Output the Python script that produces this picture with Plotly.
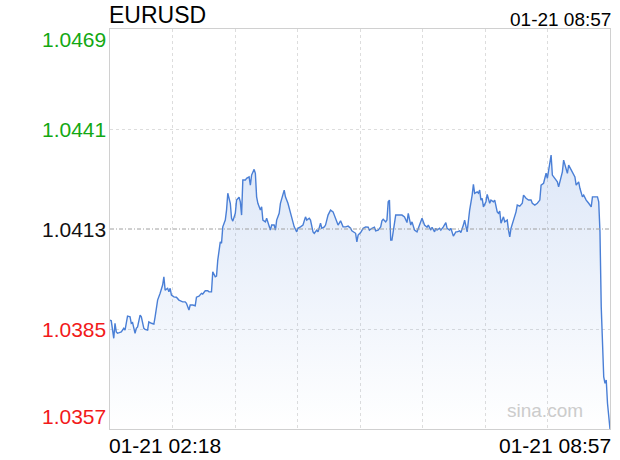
import pandas as pd
import plotly.graph_objects as go

# ---------------- data ----------------
symbol = "EURUSD"
start_time = "2025-01-21 02:18"
end_label = "01-21 08:57"
start_label = "01-21 02:18"

minutes = [0, 1, 3, 4, 5, 6, 9, 11, 12, 14, 16, 17, 18, 20, 21, 22, 24, 25, 27, 28,
           30, 31, 33, 35, 36, 38, 40, 42, 43, 44, 46, 47, 48, 49, 51, 53, 55, 58, 60, 61,
           63, 64, 66, 68, 69, 71, 73, 74, 76, 78, 79, 81, 82, 84, 85, 86, 88, 89, 90, 92,
           93, 94, 96, 97, 98, 100, 101, 103, 104, 105, 106, 108, 109, 111, 112, 113, 115, 116, 117, 118,
           120, 121, 122, 124, 125, 126, 128, 129, 131, 132, 133, 135, 136, 139, 140, 142, 144, 146, 147, 149,
           150, 152, 154, 156, 157, 159, 160, 162, 163, 165, 166, 168, 169, 171, 172, 174, 176, 178, 179, 181,
           182, 184, 186, 188, 190, 192, 193, 196, 197, 198, 200, 202, 204, 206, 207, 209, 211, 212, 214, 216,
           217, 218, 220, 221, 222, 223, 224, 225, 226, 228, 230, 233, 235, 237, 238, 240, 241, 243, 245, 246,
           248, 249, 251, 253, 254, 256, 257, 259, 260, 261, 263, 264, 266, 268, 269, 271, 272, 274, 276, 277,
           279, 280, 282, 283, 285, 286, 287, 289, 290, 291, 293, 294, 295, 296, 297, 298, 300, 301, 303, 304,
           306, 307, 309, 310, 311, 312, 314, 315, 317, 318, 319, 320, 322, 324, 325, 327, 329, 330, 332, 334,
           336, 337, 339, 341, 343, 344, 346, 348, 349, 351, 352, 353, 355, 357, 358, 360, 361, 362, 364, 365,
           366, 368, 369, 371, 372, 374, 375, 377, 378, 380, 382, 384, 385, 387, 389, 390, 391, 392, 394, 395,
           396, 397, 399]

prices = [1.03875, 1.03873, 1.03824, 1.03866, 1.03842, 1.03838, 1.03842, 1.03852, 1.03847, 1.03886,
          1.03884, 1.03866, 1.03868, 1.03838, 1.03852, 1.03856, 1.03889, 1.03884, 1.03852, 1.03849,
          1.03847, 1.03870, 1.03866, 1.03864, 1.03884, 1.03931, 1.03950, 1.03973, 1.03996, 1.03959,
          1.03964, 1.03954, 1.03964, 1.03945, 1.03940, 1.03939, 1.03931, 1.03926, 1.03926, 1.03922,
          1.03903, 1.03917, 1.03917, 1.03915, 1.03939, 1.03942, 1.03950, 1.03948, 1.03957, 1.03957,
          1.03954, 1.03954, 1.04010, 1.03996, 1.03998, 1.04043, 1.04094, 1.04090, 1.04136, 1.04155,
          1.04183, 1.04230, 1.04202, 1.04160, 1.04152, 1.04174, 1.04211, 1.04219, 1.04206, 1.04169,
          1.04267, 1.04267, 1.04272, 1.04276, 1.04253, 1.04281, 1.04297, 1.04286, 1.04220, 1.04202,
          1.04183, 1.04192, 1.04155, 1.04150, 1.04160, 1.04150, 1.04127, 1.04141, 1.04141, 1.04127,
          1.04155, 1.04174, 1.04202, 1.04239, 1.04220, 1.04202, 1.04178, 1.04150, 1.04136, 1.04122,
          1.04132, 1.04136, 1.04141, 1.04164, 1.04155, 1.04160, 1.04155, 1.04122, 1.04118, 1.04127,
          1.04122, 1.04146, 1.04132, 1.04136, 1.04141, 1.04169, 1.04183, 1.04178, 1.04169, 1.04150,
          1.04141, 1.04153, 1.04136, 1.04136, 1.04138, 1.04132, 1.04125, 1.04118, 1.04094, 1.04113,
          1.04120, 1.04132, 1.04136, 1.04135, 1.04127, 1.04132, 1.04135, 1.04125, 1.04127, 1.04136,
          1.04153, 1.04157, 1.04150, 1.04155, 1.04206, 1.04211, 1.04099, 1.04099, 1.04127, 1.04169,
          1.04169, 1.04169, 1.04164, 1.04148, 1.04174, 1.04141, 1.04150, 1.04127, 1.04122, 1.04132,
          1.04150, 1.04160, 1.04141, 1.04135, 1.04141, 1.04127, 1.04135, 1.04122, 1.04132, 1.04127,
          1.04132, 1.04127, 1.04136, 1.04148, 1.04132, 1.04127, 1.04132, 1.04110, 1.04122, 1.04122,
          1.04125, 1.04120, 1.04141, 1.04155, 1.04122, 1.04160, 1.04183, 1.04225, 1.04255, 1.04230,
          1.04234, 1.04230, 1.04239, 1.04211, 1.04216, 1.04192, 1.04206, 1.04227, 1.04202, 1.04211,
          1.04206, 1.04211, 1.04178, 1.04174, 1.04180, 1.04146, 1.04164, 1.04150, 1.04155, 1.04127,
          1.04108, 1.04132, 1.04155, 1.04178, 1.04197, 1.04194, 1.04202, 1.04225, 1.04216, 1.04211,
          1.04211, 1.04202, 1.04197, 1.04202, 1.04211, 1.04253, 1.04258, 1.04286, 1.04272, 1.04318,
          1.04337, 1.04281, 1.04272, 1.04262, 1.04248, 1.04276, 1.04290, 1.04323, 1.04300, 1.04286,
          1.04309, 1.04295, 1.04290, 1.04276, 1.04253, 1.04262, 1.04244, 1.04220, 1.04225, 1.04211,
          1.04202, 1.04192, 1.04220, 1.04220, 1.04220, 1.04206, 1.04122, 1.03912, 1.03716, 1.03698,
          1.03707, 1.03642, 1.03570]

prev_close = 1.0413
ytick_vals = [1.0469, 1.0441, 1.0413, 1.0385, 1.0357]
ytick_labels = ["1.0469", "1.0441", "1.0413", "1.0385", "1.0357"]
ytick_colors = ["#13a813", "#13a813", "#111111", "#f21a1a", "#f21a1a"]
total_minutes = 399
n_vgrid = 8

# ---------------- build ----------------
t0 = pd.Timestamp(start_time)
times = [t0 + pd.Timedelta(minutes=m) for m in minutes]
t_end = t0 + pd.Timedelta(minutes=total_minutes)
ymin, ymax = ytick_vals[-1], ytick_vals[0]

fig = go.Figure()
fig.add_trace(go.Scatter(x=times, y=[ymin] * len(times), mode="lines",
                         line=dict(width=0), hoverinfo="skip", showlegend=False))
fig.add_trace(go.Scatter(
    x=times, y=prices, mode="lines",
    line=dict(color="#4a7fd6", width=1.4),
    fill="tonexty",
    fillgradient=dict(type="vertical", start=ymin, stop=max(prices),
                      colorscale=[[0, "rgba(70,125,215,0.0)"], [1, "rgba(70,125,215,0.18)"]]),
    showlegend=False))

# previous close reference line
fig.add_shape(type="line", xref="paper", x0=0, x1=1, y0=prev_close, y1=prev_close,
              line=dict(color="#a0a0a0", width=1, dash="4px,2px,1px,2px"), layer="above")

annotations = []
for v, lab, col in zip(ytick_vals, ytick_labels, ytick_colors):
    anchor, ys = "middle", 0
    if v == ymax:
        anchor, ys = "top", 3
    elif v == ymin:
        anchor, ys = "bottom", -1
    annotations.append(dict(xref="paper", yref="y", x=0, y=v, text=lab, showarrow=False,
                            xanchor="right", yanchor=anchor, xshift=-2, yshift=ys,
                            font=dict(size=21, color=col)))
annotations += [
    dict(xref="paper", yref="paper", x=0, y=1, text=symbol, showarrow=False,
         xanchor="left", yanchor="bottom", xshift=-3, yshift=-1,
         font=dict(size=23, color="#000000")),
    dict(xref="paper", yref="paper", x=1, y=1, text=end_label, showarrow=False,
         xanchor="right", yanchor="bottom", xshift=3, yshift=-3,
         font=dict(size=19, color="#000000")),
    dict(xref="paper", yref="paper", x=0, y=0, text=start_label, showarrow=False,
         xanchor="left", yanchor="top", xshift=-3, yshift=-3,
         font=dict(size=21, color="#000000")),
    dict(xref="paper", yref="paper", x=1, y=0, text=end_label, showarrow=False,
         xanchor="right", yanchor="top", xshift=3, yshift=-3,
         font=dict(size=21, color="#000000")),
    dict(xref="paper", yref="paper", x=0.95, y=0.015, text="sina.com", showarrow=False,
         xanchor="right", yanchor="bottom",
         font=dict(size=19, color="#cccccc")),
]

fig.update_layout(
    width=620, height=460,
    margin=dict(l=110, r=10, t=29, b=31),
    paper_bgcolor="white", plot_bgcolor="white",
    font=dict(family="Liberation Sans, Arial, sans-serif"),
    annotations=annotations,
    xaxis=dict(range=[t0, t_end], type="date",
               tick0=t0, dtick=total_minutes * 60000 / n_vgrid,
               showticklabels=False, ticks="",
               showgrid=True, gridcolor="#dddddd", griddash="dot", gridwidth=1,
               showline=True, linecolor="#d0d0d0", linewidth=1, mirror=True,
               zeroline=False, fixedrange=True),
    yaxis=dict(range=[ymin, ymax], tickvals=[ytick_vals[1], ytick_vals[3]],
               showticklabels=False, ticks="",
               showgrid=True, gridcolor="#dddddd", griddash="dot", gridwidth=1,
               showline=True, linecolor="#d0d0d0", linewidth=1, mirror=True,
               zeroline=False, fixedrange=True),
)

fig.write_html("out.html", config={"displayModeBar": False},
               post_script="document.body.style.margin='0';document.body.style.overflow='hidden';")
